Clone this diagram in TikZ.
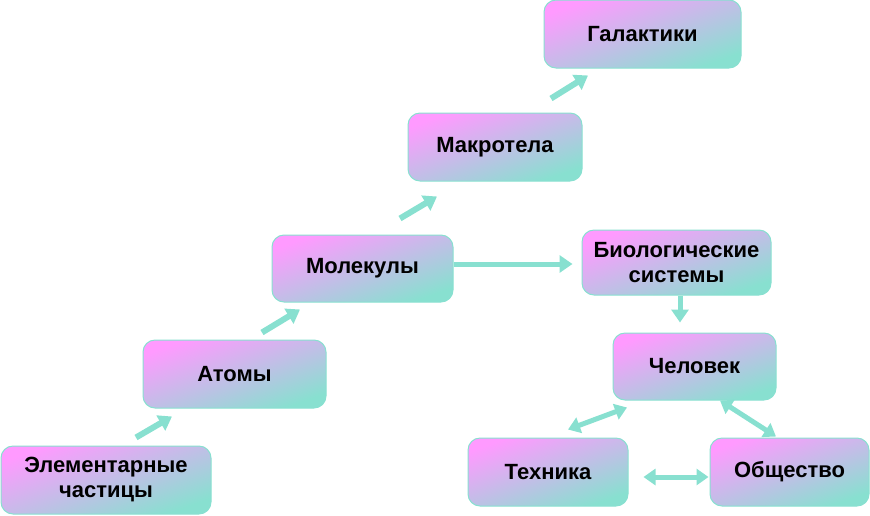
\documentclass[tikz,border=0pt]{standalone}
\usepackage{fontspec}
\setmainfont{Liberation Sans}
\usepackage{xcolor}
\usetikzlibrary{arrows.meta,positioning}
\definecolor{pinkish}{RGB}{255,154,255}
\definecolor{teal}{RGB}{136,224,208}

\begin{document}
\begin{tikzpicture}[x=1pt,y=-1pt,
      box/.style={rounded corners=12pt, draw=teal, line width=1pt,
        top color=pinkish, bottom color=teal, shading angle=20,
        align=center, font=\fontsize{22}{25}\selectfont\bfseries, inner sep=2pt},
      arr/.style={-{Triangle[length=13pt,width=17pt]}, line width=6pt, color=teal},
      darr/.style={{Triangle[length=12pt,width=16pt]}-{Triangle[length=12pt,width=16pt]}, line width=5pt, color=teal}
    ]
      \useasboundingbox (0,0) rectangle (870,515);
      \node[box, minimum width=210pt, minimum height=68pt] (elem) at (106,480) {Элементарные\\частицы};
      \node[box, minimum width=183pt, minimum height=68pt] (atom) at (234.5,374) {Атомы};
      \node[box, minimum width=181pt, minimum height=67pt] (mol) at (362.5,268.5) {Молекулы};
      \node[box, minimum width=174pt, minimum height=68pt] (makro) at (495,147) {Макротела};
      \node[box, minimum width=197pt, minimum height=68pt] (gal) at (642.5,34) {Галактики};
      \node[box, minimum width=189pt, minimum height=65pt] (bio) at (676.5,262.5) {Биологические\\системы};
      \node[box, minimum width=163pt, minimum height=67pt] (chel) at (694.5,366.5) {Человек};
      \node[box, minimum width=160pt, minimum height=68pt] (tech) at (548,472) {Техника};
      \node[box, minimum width=159pt, minimum height=68pt] (obsh) at (789.5,472) {Общество};
      % chain upwards
      \draw[arr] ([shift={(30,-8)}]elem.north) -- ([shift={(-62.5,8)}]atom.south);
      \draw[arr] ([shift={(27.5,-7)}]atom.north) -- ([shift={(-62.5,7)}]mol.south);
      \draw[arr] ([shift={(37.5,-16)}]mol.north) -- ([shift={(-58,15)}]makro.south);
      \draw[arr] ([shift={(56,-14)}]makro.north) -- ([shift={(-54.5,7)}]gal.south);
      % living branch
      \draw[arr, line width=5pt] ([shift={(0,-4.5)}]mol.east) -- ([shift={(-9,1.5)}]bio.west);
      \draw[arr, line width=5pt] ([shift={(3.5,0)}]bio.south) -- ([shift={(-14.5,-10)}]chel.north);
      \draw[darr] ([shift={(20,-8)}]tech.north) -- ([shift={(-67.5,7)}]chel.south);
      \draw[darr] ([shift={(25.5,0)}]chel.south) -- ([shift={(-13.5,-1)}]obsh.north);
      \draw[darr] ([shift={(15,5)}]tech.east) -- ([shift={(-1,5)}]obsh.west);
    \end{tikzpicture}
\end{document}
